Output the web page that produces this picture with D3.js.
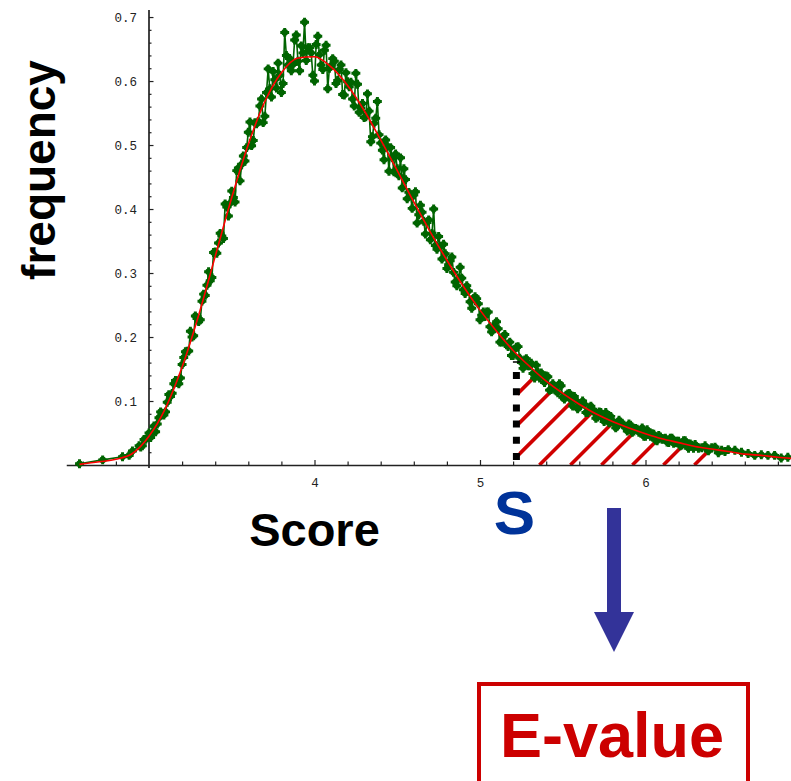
<!DOCTYPE html>
<html>
<head>
<meta charset="utf-8">
<script src="https://cdn.jsdelivr.net/npm/d3@7"></script>
<style>
  html, body { margin: 0; padding: 0; background: #fff; }
  svg { display: block; }
</style>
</head>
<body>
<svg id="chart" width="791" height="781"></svg>
<script>
// Observed score frequencies: entry i sits at binStart + i * binWidth; null = bin not sampled
const binStart = 2.58;
const binWidth = 0.01;
const observedFreq = [
  0.002, null, null, null, null, null, null, null, null, null,
  null, null, null, null, 0.008, null, null, null, null, null,
  null, null, null, null, null, null, 0.013, null, null, null,
  0.015, null, 0.022, null, null, null, 0.030, 0.028, 0.030, 0.040,
  0.040, 0.043, 0.050, 0.043, 0.050, 0.061, 0.052, 0.064, 0.074, 0.083,
  0.081, 0.078, 0.083, 0.098, 0.110, 0.107, 0.112, 0.127, 0.132, 0.129,
  0.127, 0.136, 0.157, 0.168, 0.177, 0.178, 0.178, 0.209, 0.200, 0.202,
  0.233, 0.229, 0.224, 0.227, 0.256, 0.267, 0.265, 0.281, 0.302, 0.288,
  0.293, 0.332, 0.333, 0.331, 0.347, 0.362, 0.358, 0.354, 0.408, 0.403,
  0.389, 0.409, 0.428, 0.418, 0.411, 0.460, 0.464, 0.444, 0.470, 0.483,
  0.475, 0.496, 0.520, 0.536, 0.499, 0.507, 0.535, 0.533, 0.537, 0.561,
  0.572, 0.535, 0.545, 0.582, 0.619, 0.588, 0.575, 0.615, 0.602, 0.589,
  0.628, 0.609, 0.582, 0.596, 0.676, 0.640, 0.625, 0.635, 0.616, 0.626,
  0.664, 0.672, 0.631, 0.616, 0.655, 0.644, 0.692, 0.632, 0.652, 0.652,
  0.644, 0.609, 0.600, 0.657, 0.670, 0.641, 0.625, 0.618, 0.648, 0.656,
  0.588, 0.620, 0.624, 0.635, 0.631, 0.596, 0.601, 0.618, 0.625, 0.579,
  0.578, 0.613, 0.599, 0.591, 0.598, 0.572, 0.561, 0.612, 0.595, 0.551,
  0.558, 0.565, 0.543, 0.544, 0.580, 0.553, 0.505, 0.513, 0.534, 0.542,
  0.568, 0.516, 0.503, 0.492, 0.477, 0.508, 0.498, 0.459, 0.496, 0.480,
  0.458, 0.486, 0.463, 0.452, 0.480, 0.433, 0.463, 0.446, 0.416, 0.426,
  0.421, 0.401, 0.422, 0.427, 0.378, 0.391, 0.406, 0.395, 0.381, 0.361,
  0.379, 0.383, 0.352, 0.362, 0.400, 0.343, 0.337, 0.357, 0.342, 0.322,
  0.345, 0.330, 0.307, 0.313, 0.319, 0.325, 0.301, 0.286, 0.280, 0.292,
  0.309, 0.292, 0.274, 0.268, 0.280, 0.272, 0.255, 0.245, 0.260, 0.263,
  0.260, 0.252, 0.227, 0.234, 0.239, 0.232, 0.239, 0.239, 0.216, 0.208,
  0.216, 0.215, 0.224, 0.213, 0.192, 0.192, 0.201, 0.204, 0.188, 0.185,
  0.192, 0.171, 0.171, 0.181, 0.184, 0.185, 0.167, 0.160, 0.151, 0.164,
  0.166, 0.155, 0.155, 0.159, 0.143, 0.136, 0.156, 0.145, 0.136, 0.144,
  0.139, 0.129, 0.139, 0.138, 0.117, 0.118, 0.127, 0.122, 0.116, 0.113,
  0.127, 0.124, 0.106, 0.103, 0.109, 0.111, 0.112, 0.102, 0.092, 0.107,
  0.101, 0.088, 0.091, 0.096, 0.100, 0.095, 0.082, 0.082, 0.087, 0.092,
  0.087, 0.082, 0.073, 0.075, 0.083, 0.082, 0.074, 0.068, 0.082, 0.074,
  0.066, 0.076, 0.069, 0.065, 0.058, 0.061, 0.070, 0.067, 0.064, 0.062,
  0.058, 0.053, 0.064, 0.062, 0.051, 0.053, 0.057, 0.056, 0.051, 0.052,
  0.058, 0.045, 0.045, 0.055, 0.048, 0.045, 0.049, 0.048, 0.039, 0.038,
  0.046, 0.044, 0.040, 0.041, 0.042, 0.036, 0.035, 0.042, 0.042, 0.034,
  0.035, 0.037, 0.037, 0.030, 0.031, 0.038, 0.038, 0.031, 0.026, 0.033,
  0.031, 0.026, 0.032, null, 0.026, null, 0.027, null, 0.030, null,
  0.022, null, 0.027, null, 0.028, null, 0.019, null, 0.023, null,
  0.021, null, 0.024, null, null, null, 0.023, null, null, null,
  0.020, null, null, null, 0.018, null, null, null, 0.015, null,
  null, null, 0.016, null, null, null, 0.015, null, null, null,
  0.015, null, null, null, 0.011, null, null, null, 0.012, null,
  null, null, 0.012
];

// Fitted extreme-value density
const fitScores = [
  2.58, 2.7, 2.8, 2.9, 3.0, 3.1, 3.2, 3.3, 3.4, 3.5, 3.6, 3.7, 3.8, 3.9,
  4.0, 4.1, 4.2, 4.3, 4.4, 4.5, 4.6, 4.7, 4.8, 4.9, 5.0, 5.1, 5.2, 5.3,
  5.4, 5.5, 5.6, 5.7, 5.8, 5.9, 6.0, 6.1, 6.2, 6.3, 6.4, 6.5, 6.6, 6.7,
  6.8, 6.9
];
const fitFreqs = [
  0.001, 0.005, 0.009, 0.018, 0.045, 0.089, 0.153, 0.234, 0.326, 0.418,
  0.501, 0.568, 0.613, 0.636, 0.638, 0.622, 0.593, 0.554, 0.508, 0.460,
  0.411, 0.364, 0.320, 0.279, 0.242, 0.209, 0.179, 0.154, 0.131, 0.112,
  0.095, 0.080, 0.068, 0.058, 0.049, 0.041, 0.035, 0.029, 0.025, 0.021,
  0.017, 0.015, 0.012, 0.010
];

// Axis ticks
const xMajorTicks = [4, 5, 6];
const xMinorTicks = [2.6, 2.8, 3.2, 3.4, 3.6, 3.8, 4.2, 4.4, 4.6, 4.8,
                     5.2, 5.4, 5.6, 5.8, 6.2, 6.4, 6.6, 6.8];
const yMajorTicks = [0.1, 0.2, 0.3, 0.4, 0.5, 0.6, 0.7];
const yMinorTicks = [0.02, 0.04, 0.06, 0.08, 0.12, 0.14, 0.16, 0.18,
                     0.22, 0.24, 0.26, 0.28, 0.32, 0.34, 0.36, 0.38,
                     0.42, 0.44, 0.46, 0.48, 0.52, 0.54, 0.56, 0.58,
                     0.62, 0.64, 0.66, 0.68];

// Score threshold S and the end of the shaded tail
const sThreshold = 5.22;
const sMarkerTop = 0.162;
const tailEnd = 6.45;

const svg = d3.select("#chart");
const x = d3.scaleLinear().domain([2.5, 6.9]).range([66.25, 794.45]);
const y = d3.scaleLinear().domain([0, 0.711]).range([465, 10]);

const fitPts = fitScores.map((s, i) => [s, fitFreqs[i]]);
const obsPts = observedFreq
  .map((f, i) => [binStart + i * binWidth, f])
  .filter(d => d[1] !== null);

const defs = svg.append("defs");
const areaUnder = d3.area()
  .x(d => x(d[0])).y0(y(0)).y1(d => y(d[1]))
  .curve(d3.curveMonotoneX);
defs.append("clipPath").attr("id", "under-fit")
  .append("path").attr("d", areaUnder(fitPts));
defs.append("clipPath").attr("id", "tail-band")
  .append("rect")
  .attr("x", x(sThreshold) + 2).attr("y", 0)
  .attr("width", x(tailEnd) - x(sThreshold) - 2).attr("height", y(0));

// Hatched tail beyond S
const hatchSpacing = 31;
const hatch = svg.append("g").attr("clip-path", "url(#tail-band)")
  .append("g").attr("clip-path", "url(#under-fit)");
d3.range(10).forEach(i => {
  const b = x(sThreshold) - 70 + i * hatchSpacing;
  hatch.append("line")
    .attr("x1", b).attr("y1", y(0))
    .attr("x2", b + 200).attr("y2", y(0) - 200)
    .attr("stroke", "#d00000").attr("stroke-width", 3.6);
});

// Axes (ticks drawn inward)
const axisFont = "'Liberation Mono', 'DejaVu Sans Mono', monospace";
const xAxisG = svg.append("g").attr("transform", `translate(0,${y(0)})`);
xAxisG.call(d3.axisBottom(x).tickValues(xMajorTicks).tickFormat(d3.format("d"))
  .tickSizeInner(-5).tickSizeOuter(0).tickPadding(13));
const xMinorG = svg.append("g").attr("transform", `translate(0,${y(0)})`);
xMinorG.call(d3.axisBottom(x).tickValues(xMinorTicks).tickFormat("")
  .tickSizeInner(-3.5).tickSizeOuter(0));
xMinorG.select(".domain").remove();

const yAxisG = svg.append("g").attr("transform", `translate(${x(3)},0)`);
yAxisG.call(d3.axisLeft(y).tickValues(yMajorTicks).tickFormat(d3.format(".1f"))
  .tickSizeInner(-4.5).tickSizeOuter(0).tickPadding(12));
const yMinorG = svg.append("g").attr("transform", `translate(${x(3)},0)`);
yMinorG.call(d3.axisLeft(y).tickValues(yMinorTicks).tickFormat("")
  .tickSizeInner(-2.5).tickSizeOuter(0));
yMinorG.select(".domain").remove();

[xAxisG, xMinorG, yAxisG, yMinorG].forEach(g => {
  g.selectAll(".domain").attr("stroke", "#222").attr("stroke-width", 1.7);
  g.selectAll(".tick line").attr("stroke", "#222").attr("stroke-width", 1.2);
  g.selectAll(".tick text")
    .attr("font-family", axisFont).attr("font-size", 12.5).attr("fill", "#222");
});
// let the vertical axis run just past the baseline
yAxisG.select(".domain").attr("d", `M0,${y(0) + 3}V${y(0.711)}`);

// Observed frequencies: connected green markers
const obsColor = "#006400";
const obsLine = d3.line().x(d => x(d[0])).y(d => y(d[1]));
svg.append("path")
  .attr("d", obsLine(obsPts))
  .attr("fill", "none").attr("stroke", obsColor).attr("stroke-width", 1.6);
const markerDot = d3.symbol().type(d3.symbolCircle).size(34);
const markerCross = d3.symbol().type(d3.symbolCross).size(44);
const markers = svg.append("g").selectAll("g")
  .data(obsPts).join("g")
  .attr("transform", d => `translate(${x(d[0])},${y(d[1])})`)
  .attr("fill", obsColor);
markers.append("path").attr("d", markerDot);
markers.append("path").attr("d", markerCross);

// Fitted curve
const fitLine = d3.line().x(d => x(d[0])).y(d => y(d[1])).curve(d3.curveMonotoneX);
svg.append("path")
  .attr("d", fitLine(fitPts))
  .attr("fill", "none").attr("stroke", "#ff0000").attr("stroke-width", 1.6);

// Dotted marker at S
svg.append("line")
  .attr("x1", x(sThreshold)).attr("x2", x(sThreshold))
  .attr("y1", y(0) - 5).attr("y2", y(sMarkerTop))
  .attr("stroke", "#000").attr("stroke-width", 7)
  .attr("stroke-dasharray", "7 9.2");

// Labels
const labelFont = "'Liberation Sans', Arial, Helvetica, sans-serif";
svg.append("text")
  .attr("transform", "translate(55,170) rotate(-90)")
  .attr("text-anchor", "middle")
  .attr("font-family", labelFont).attr("font-weight", "bold")
  .attr("font-size", 46).attr("fill", "#000")
  .text("frequency");
svg.append("text")
  .attr("x", x(4)).attr("y", 546)
  .attr("text-anchor", "middle")
  .attr("font-family", labelFont).attr("font-weight", "bold")
  .attr("font-size", 47).attr("fill", "#000")
  .text("Score");
svg.append("text")
  .attr("x", x(sThreshold) - 2).attr("y", 534)
  .attr("text-anchor", "middle")
  .attr("font-family", labelFont).attr("font-weight", "bold")
  .attr("font-size", 62).attr("fill", "#003399")
  .text("S");

// Arrow from S to the E-value box
const arrowX = 614;
svg.append("rect")
  .attr("x", arrowX - 7).attr("y", 508).attr("width", 14).attr("height", 105)
  .attr("fill", "#333399");
svg.append("path")
  .attr("d", `M${arrowX - 20},612 L${arrowX + 20},612 L${arrowX},652 Z`)
  .attr("fill", "#333399");

svg.append("rect")
  .attr("x", 479).attr("y", 684).attr("width", 269).attr("height", 130)
  .attr("fill", "none").attr("stroke", "#cc0000").attr("stroke-width", 4);
svg.append("text")
  .attr("x", 612).attr("y", 757)
  .attr("text-anchor", "middle")
  .attr("font-family", labelFont).attr("font-weight", "bold")
  .attr("font-size", 63).attr("fill", "#cc0000")
  .text("E-value");
</script>
</body>
</html>
